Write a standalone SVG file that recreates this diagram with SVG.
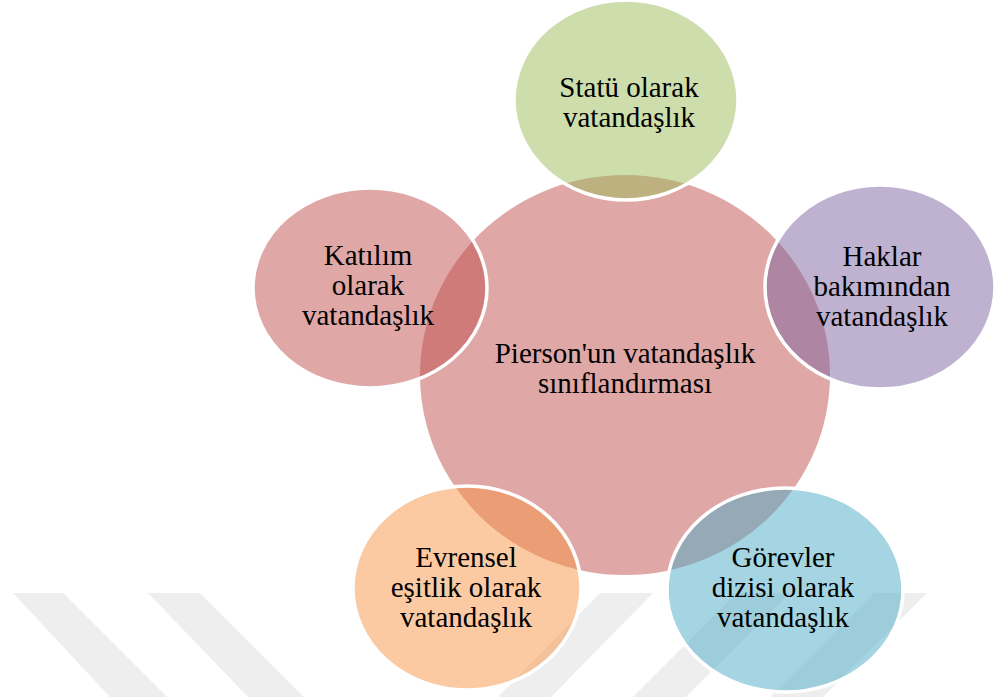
<svg xmlns="http://www.w3.org/2000/svg" width="994" height="697" viewBox="0 0 994 697">
<style>
.sat{stroke:#fff;stroke-width:3.5}
text{font-family:'Liberation Serif','Times New Roman','DejaVu Serif',serif;font-size:29px;fill:#000;text-anchor:middle}
.wm{fill:#eeeeee}
</style>
<rect width="994" height="697" fill="#fff"/>
<g id="watermark">
<polygon class="wm" points="13,593 63,593 167,697 110,697"/>
<polygon class="wm" points="148,593 200,593 304,697 248,697"/>
<polygon class="wm" points="600,593 653,593 551,697 498,697"/>
<polygon class="wm" points="737,593 790,593 686,697 633,697"/>
<polygon class="wm" points="874,593 927,593 823,697 770,697"/>
</g>
<g id="center">
<ellipse cx="625" cy="375" rx="205" ry="200" fill="#C0504D" fill-opacity="0.5"/>
<text x="625" y="363">Pierson'un vatandaşlık</text>
<text x="625" y="393">sınıflandırması</text>
</g>
<g id="connectors"></g>
<g id="statu">
<ellipse class="sat" cx="626" cy="100" rx="112" ry="100" fill="#9BBB59" fill-opacity="0.5"/>
<text x="629" y="97">Statü olarak</text>
<text x="629" y="127">vatandaşlık</text>
</g>
<g id="haklar">
<ellipse class="sat" cx="880" cy="287" rx="115" ry="102" fill="#8064A2" fill-opacity="0.5"/>
<text x="882" y="266">Haklar</text>
<text x="882" y="296">bakımından</text>
<text x="882" y="326">vatandaşlık</text>
</g>
<g id="gorevler">
<ellipse class="sat" cx="785" cy="590" rx="118" ry="102" fill="#4BACC6" fill-opacity="0.5"/>
<text x="783" y="567">Görevler</text>
<text x="783" y="597">dizisi olarak</text>
<text x="783" y="627">vatandaşlık</text>
</g>
<g id="evrensel">
<ellipse class="sat" cx="467" cy="588" rx="114" ry="102" fill="#F79646" fill-opacity="0.5"/>
<text x="466" y="567">Evrensel</text>
<text x="466" y="597">eşitlik olarak</text>
<text x="466" y="627">vatandaşlık</text>
</g>
<g id="katilim">
<ellipse class="sat" cx="370" cy="288" rx="117" ry="100" fill="#C0504D" fill-opacity="0.5"/>
<text x="368" y="265">Katılım</text>
<text x="368" y="295">olarak</text>
<text x="368" y="325">vatandaşlık</text>
</g>
</svg>
